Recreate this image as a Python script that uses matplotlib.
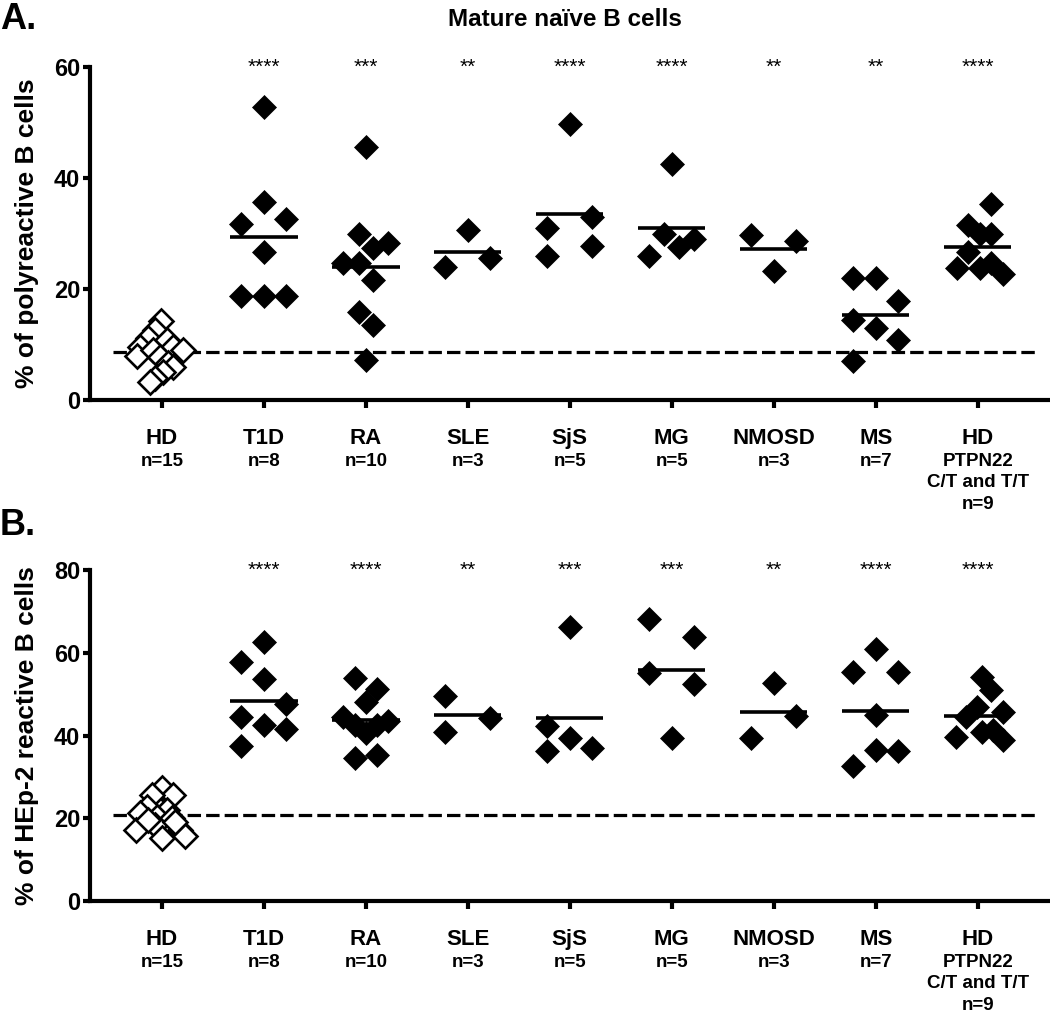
import numpy as np
import matplotlib.pyplot as plt
from matplotlib import font_manager
from matplotlib.transforms import blended_transform_factory

plt.rcParams['font.family'] = ['Liberation Sans', 'DejaVu Sans']
plt.rcParams['font.weight'] = 'bold'

# condensed face for the category labels, if it is there
try:
    font_manager.findfont('Liberation Sans Narrow', fallback_to_default=False)
    narrow = ['Liberation Sans Narrow']
    name_size, sub_size = 18.5, 15.5
except ValueError:
    narrow = ['Liberation Sans']
    name_size, sub_size = 16, 13.5

# categories and labels
groups = ['HD', 'T1D', 'RA', 'SLE', 'SjS', 'MG', 'NMOSD', 'MS', 'HD']
group_sub = [['n=15'], ['n=8'], ['n=10'], ['n=3'], ['n=5'], ['n=5'], ['n=3'], ['n=7'],
             ['PTPN22', 'C/T and T/T', 'n=9']]

# panel A: % of polyreactive B cells
poly_hd = [14.3, 12.6, 11.2, 10.8, 9.6, 9.6, 9.0, 7.9, 9.0, 7.8, 6.6, 6.0, 5.1, 4.0, 3.3]
poly_t1d = [52.7, 35.7, 31.7, 32.6, 26.6, 18.7, 18.7, 18.7]
poly_ra = [45.6, 29.9, 27.3, 28.3, 24.7, 24.7, 21.7, 15.9, 13.5, 7.2]
poly_sle = [30.6, 24.0, 25.5]
poly_sjs = [49.7, 31.0, 33.0, 26.0, 27.7]
poly_mg = [42.6, 29.9, 26.0, 27.6, 29.0]
poly_nmosd = [29.7, 28.7, 23.2]
poly_ms = [21.9, 21.9, 17.9, 14.5, 13.0, 10.9, 7.1]
poly_ptpn22 = [35.3, 31.5, 29.9, 30.0, 26.7, 23.8, 23.8, 24.7, 22.7]
poly_hd_ref = 8.7
poly_stars = ['', '****', '***', '**', '****', '****', '**', '**', '****']

# panel B: % of HEp-2 reactive B cells
hep_hd = [27.3, 25.6, 25.6, 22.8, 22.0, 21.2, 20.3, 20.0, 17.1, 18.3, 15.2, 17.1, 15.6, 19.0, 19.5]
hep_t1d = [62.7, 57.8, 53.6, 47.5, 44.5, 42.5, 41.5, 37.5]
hep_ra = [53.8, 51.2, 48.2, 44.5, 43.6, 42.5, 40.5, 42.5, 34.5, 35.2]
hep_sle = [49.6, 44.3, 40.9]
hep_sjs = [66.3, 42.4, 39.5, 36.3, 36.9]
hep_mg = [68.1, 63.9, 55.2, 52.4, 39.5]
hep_nmosd = [52.6, 44.7, 39.5]
hep_ms = [60.8, 55.3, 55.3, 44.9, 32.7, 36.6, 36.3]
hep_ptpn22 = [54.2, 51.0, 47.0, 44.5, 45.7, 39.7, 40.9, 41.3, 38.9]
hep_hd_ref = 20.8
hep_stars = ['', '****', '****', '**', '***', '***', '**', '****', '****']

# horizontal scatter of the points inside each column (category units)
jitter_a = [
    [-0.01, -0.07, -0.14, 0.05, 0.11, -0.22, 0.21, -0.24, -0.09, -0.02, 0.06, 0.11, 0.01, -0.07, -0.12],
    [0, 0, -0.22, 0.22, 0, -0.22, 0, 0.22],
    [0, -0.07, 0.07, 0.22, -0.22, -0.07, 0.07, -0.07, 0.07, 0],
    [0, -0.22, 0.22],
    [0, -0.22, 0.22, -0.22, 0.22],
    [0, -0.075, -0.22, 0.075, 0.22],
    [-0.22, 0.22, 0],
    [-0.22, 0, 0.22, -0.22, 0, 0.22, -0.22],
    [0.13, -0.09, 0.13, 0.02, -0.09, -0.2, 0.02, 0.13, 0.25],
]
jitter_b = [
    [0, 0.11, -0.1, -0.15, 0.05, -0.22, -0.05, 0.1, -0.25, -0.07, 0, 0.18, 0.23, 0.13, -0.14],
    [0, -0.22, 0, 0.22, -0.22, 0, 0.22, -0.22],
    [-0.11, 0.11, 0, -0.22, 0.22, -0.11, 0, 0.11, -0.11, 0.11],
    [-0.22, 0.22, -0.22],
    [0, -0.22, 0, -0.22, 0.22],
    [-0.22, 0.22, -0.22, 0.22, 0],
    [0, 0.22, -0.22],
    [0, -0.22, 0.22, 0, -0.22, 0, 0.22],
    [0.04, 0.13, -0.01, -0.11, 0.25, -0.21, 0.04, 0.15, 0.25],
]

panel_a = [poly_hd, poly_t1d, poly_ra, poly_sle, poly_sjs, poly_mg, poly_nmosd, poly_ms, poly_ptpn22]
panel_b = [hep_hd, hep_t1d, hep_ra, hep_sle, hep_sjs, hep_mg, hep_nmosd, hep_ms, hep_ptpn22]

MS = 12.2
SUB_OFFSETS = [-44, -59.5, -75]   # points below the x axis for the small lines


def draw_panel(ax, data, jitter, ref, stars, ymax, ylabel):
    for i, (vals, jit) in enumerate(zip(data, jitter)):
        x = i + np.array(jit)
        if i == 0:
            ax.plot(x, vals, 'D', ms=MS, mfc='white', mec='black', mew=1.9,
                    ls='none', zorder=3)
        else:
            ax.plot(x, vals, 'D', ms=MS, mfc='black', mec='black', mew=0.5,
                    ls='none', zorder=3)
            m = np.mean(vals)
            ax.plot([i - 0.33, i + 0.33], [m, m], color='black', lw=2.6,
                    solid_capstyle='butt', zorder=4)
        if stars[i]:
            ax.text(i, ymax, stars[i], ha='center', va='center',
                    fontsize=15, fontweight='normal')

    ax.plot([-0.48, 8.6], [ref, ref], color='black', lw=2.3,
            ls=(0, (4.2, 1.6)), zorder=2)

    ax.set_xlim(-0.706, 8.69)
    ax.set_ylim(0, ymax)
    ax.set_yticks(np.arange(0, ymax + 1, 20))
    ax.set_xticks(range(len(groups)))
    ax.set_xticklabels([])
    ax.spines['top'].set_visible(False)
    ax.spines['right'].set_visible(False)
    ax.spines['left'].set_linewidth(3)
    ax.spines['bottom'].set_linewidth(3)
    ax.tick_params(axis='y', length=5, width=3, labelsize=17, pad=2)
    ax.tick_params(axis='x', length=6, width=3)
    for lab in ax.get_yticklabels():
        lab.set_fontweight('bold')
    ax.set_ylabel(ylabel, fontsize=19, fontweight='bold')
    ax.yaxis.set_label_coords(-0.053, 0.5)

    trans = blended_transform_factory(ax.transData, ax.transAxes)
    for i, (g, subs) in enumerate(zip(groups, group_sub)):
        ax.annotate(g, xy=(i, 0), xycoords=trans, xytext=(0, -27.5),
                    textcoords='offset points', ha='center', va='center',
                    fontsize=name_size, fontweight='bold', family=narrow)
        for s, dy in zip(subs, SUB_OFFSETS):
            ax.annotate(s, xy=(i, 0), xycoords=trans, xytext=(0, dy),
                        textcoords='offset points', ha='center', va='center',
                        fontsize=sub_size, fontweight='bold', family=narrow)


fig = plt.figure(figsize=(10.5, 10.21), dpi=100)
ax_a = fig.add_axes([0.0857, 0.6082, 0.9124, 0.3262])
ax_b = fig.add_axes([0.0857, 0.1175, 0.9124, 0.3242])

draw_panel(ax_a, panel_a, jitter_a, poly_hd_ref, poly_stars, 60,
           '% of polyreactive B cells')
draw_panel(ax_b, panel_b, jitter_b, hep_hd_ref, hep_stars, 80,
           '% of HEp-2 reactive B cells')

fig.text(0.538, 0.981, 'Mature naïve B cells', ha='center', va='center',
         fontsize=17.5, fontweight='bold')
fig.text(0.0, 0.981, 'A.', ha='left', va='center', fontsize=26, fontweight='bold')
fig.text(0.0, 0.485, 'B.', ha='left', va='center', fontsize=26, fontweight='bold')

fig.savefig('out.png', dpi=100)
